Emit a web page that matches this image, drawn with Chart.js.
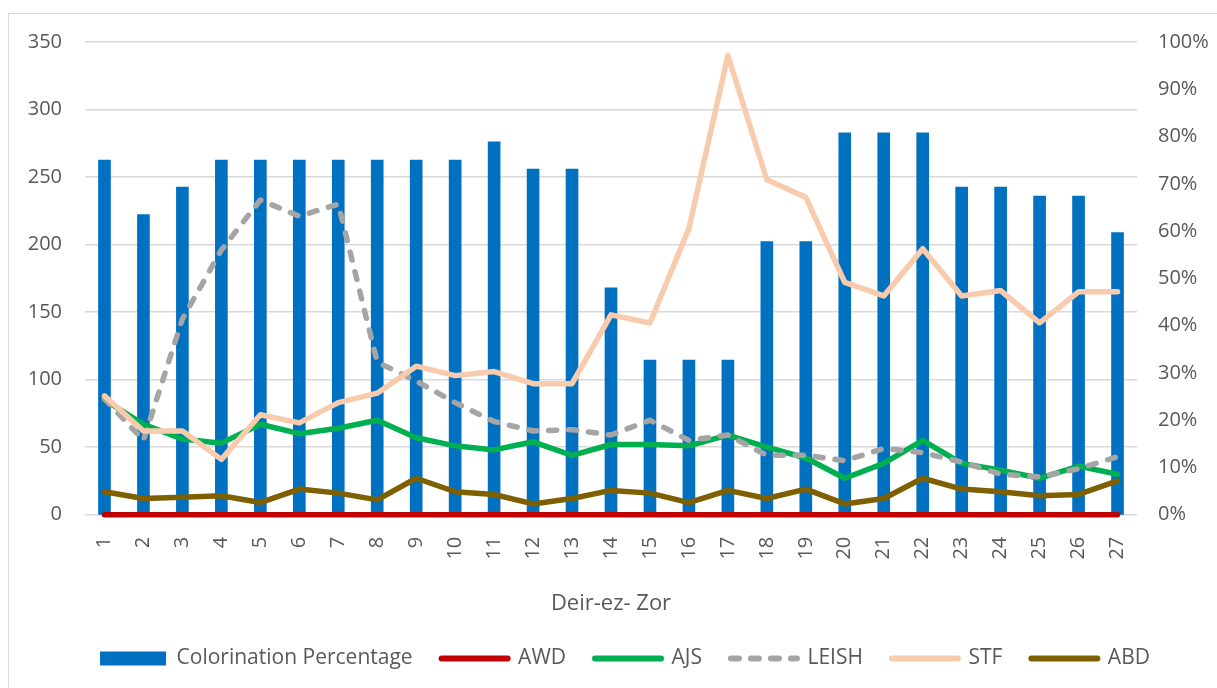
<!DOCTYPE html>
<html>
<head>
<meta charset="utf-8">
<script src="https://cdn.jsdelivr.net/npm/chart.js@4"></script>
<style>
  html, body { margin: 0; padding: 0; background: #fff; overflow: hidden; }
  #frame { position: absolute; left: 8px; top: 13px; width: 1300px; height: 800px; border: 1px solid #d9d9d9; }
  #wrap { position: absolute; left: 0; top: 0; width: 1250px; height: 688px; }
</style>
</head>
<body>
<div id="frame"></div>
<div id="wrap"><canvas id="chart" width="1250" height="688"></canvas></div>
<script>
const districts = ["1","2","3","4","5","6","7","8","9","10","11","12","13","14","15","16","17","18","19","20","21","22","23","24","25","26","27"];

// bars, right axis (%)
const colorination = [75.0, 63.5, 69.3, 75.0, 75.0, 75.0, 75.0, 75.0, 75.0, 75.0, 78.9, 73.1, 73.1, 48.0, 32.7, 32.7, 32.7, 57.8, 57.8, 80.8, 80.8, 80.8, 69.3, 69.3, 67.4, 67.4, 59.7];

// lines, left axis (cases)
const awd   = [0, 0, 0, 0, 0, 0, 0, 0, 0, 0, 0, 0, 0, 0, 0, 0, 0, 0, 0, 0, 0, 0, 0, 0, 0, 0, 0];
const ajs   = [85, 67, 56, 53, 67, 60, 64, 70, 57, 51, 48, 54, 44, 52, 52, 51, 59, 50, 42, 27, 38, 55, 38, 33, 27, 36, 30];
const leish = [86, 55, 145, 196, 233, 221, 230, 113, 99, 83, 69, 62, 63, 59, 70, 55, 59, 44, 44, 40, 49, 46, 39, 30, 28, 34, 43];
const stf   = [88, 62, 62, 41, 74, 68, 83, 90, 110, 103, 106, 97, 97, 148, 142, 212, 340, 248, 235, 172, 162, 197, 162, 166, 142, 165, 165];
const abd   = [17, 12, 13, 14, 9, 19, 16, 11, 27, 17, 15, 8, 12, 18, 16, 9, 18, 12, 19, 8, 12, 27, 19, 17, 14, 15, 25];

const leftTicks = [0, 50, 100, 150, 200, 250, 300, 350];

const textColor = "#595959";
const fontFamily = "'Open Sans', 'Liberation Sans', sans-serif";

function lineSet(label, data, color, order, dash) {
    return {
        type: "line",
        label: label,
        data: data,
        yAxisID: "y",
        borderColor: color,
        backgroundColor: color,
        borderWidth: 5.5,
        borderDash: dash || [],
        borderCapStyle: "round",
        borderJoinStyle: "round",
        pointRadius: 0,
        tension: 0,
        clip: 8,
        order: order
    };
}

const datasets = [
    {
        type: "bar",
        label: "Colorination Percentage",
        data: colorination,
        yAxisID: "y1",
        backgroundColor: "#0070C0",
        barThickness: 12,
        order: 10
    },
    lineSet("AWD", awd, "#C00000", 5),
    lineSet("AJS", ajs, "#00B050", 4),
    lineSet("LEISH", leish, "#A5A5A5", 3, [8, 12]),
    lineSet("STF", stf, "#F8CBAD", 2),
    lineSet("ABD", abd, "#7F6000", 1)
];

new Chart(document.getElementById("chart"), {
    data: { labels: districts, datasets: datasets },
    options: {
        responsive: false,
        animation: false,
        layout: { padding: { top: 42, bottom: 9, left: 0, right: 0 } },
        plugins: {
            tooltip: { enabled: false },
            legend: {
                position: "bottom",
                labels: {
                    usePointStyle: true,
                    pointStyleWidth: 66,
                    boxHeight: 14,
                    padding: 29,
                    color: textColor,
                    font: { family: fontFamily, size: 21 },
                    generateLabels: (chart) => chart.data.datasets.map((ds, i) => ({
                        text: ds.label,
                        datasetIndex: i,
                        fillStyle: ds.backgroundColor,
                        strokeStyle: ds.type === "bar" ? ds.backgroundColor : ds.borderColor,
                        lineWidth: ds.type === "bar" ? 0 : 6,
                        lineDash: ds.borderDash || [],
                        lineCap: "round",
                        pointStyle: ds.type === "bar" ? "rect" : "line",
                        fontColor: textColor,
                        hidden: false
                    }))
                }
            }
        },
        scales: {
            x: {
                grid: { display: false },
                border: { display: false },
                ticks: {
                    minRotation: 90,
                    maxRotation: 90,
                    autoSkip: false,
                    padding: 14,
                    color: textColor,
                    font: { family: fontFamily, size: 20 }
                },
                title: {
                    display: true,
                    text: "Deir-ez- Zor",
                    color: textColor,
                    font: { family: fontFamily, size: 22 },
                    padding: { top: 17, bottom: 2 }
                }
            },
            y: {
                position: "left",
                min: 0,
                max: 350,
                afterFit: (scale) => { scale.width = 85; },
                afterBuildTicks: (scale) => { scale.ticks = leftTicks.map(v => ({ value: v })); },
                grid: { color: "#d9d9d9", lineWidth: 1.5, drawTicks: false },
                border: { display: false },
                ticks: {
                    padding: 23,
                    color: textColor,
                    font: { family: fontFamily, size: 20 }
                }
            },
            y1: {
                position: "right",
                min: 0,
                max: 100,
                afterFit: (scale) => { scale.width = 113; },
                grid: { display: false, drawTicks: false },
                border: { display: false },
                ticks: {
                    stepSize: 10,
                    padding: 21,
                    color: textColor,
                    font: { family: fontFamily, size: 20 },
                    callback: (v) => v + "%"
                }
            }
        }
    }
});
</script>
</body>
</html>
